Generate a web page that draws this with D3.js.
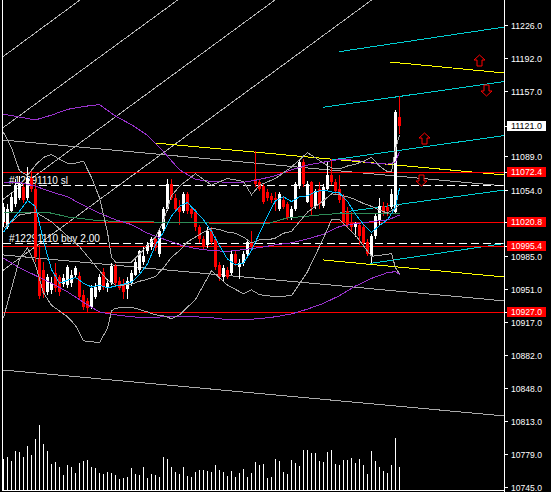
<!DOCTYPE html>
<html><head><meta charset="utf-8">
<script src="https://cdn.jsdelivr.net/npm/d3@7"></script>
<style>html,body{margin:0;padding:0;background:#000;overflow:hidden}</style>
</head><body>
<svg id="chart" width="551" height="492"></svg>
<script>
// ---------- DATA ----------
const candleOpen  = [11021,11016,11032,11039,11046,11057,11046,11067,11055,10982,10971,10948,10950,10968,10963,10956,10955,10957,10966,10964,10945,10938,10932,10943,10950,10969,10952,10957,10975,10959,10955,10951,10957,10966,10971,10979,10990,10995,11003,10987,11013,11034,11060,11046,11036,11032,11050,11034,11031,11015,11003,10997,11011,11003,10976,10963,10971,10968,10987,10974,10978,10987,11000,11065,11062,11058,11052,11048,11046,11034,11044,11039,11025,11034,11058,11083,11042,11062,11037,11055,11037,11055,11070,11062,11055,11047,11032,11021,11015,11018,11015,11000,10985,11006,11023,11037,11036,11036,11031,11130];
const candleHigh  = [11041,11039,11051,11065,11069,11060,11078,11076,11060,10997,10979,10967,10963,10978,10966,10967,10976,10971,10975,10969,10950,10942,10955,10957,10967,10973,10961,10978,10977,10963,10961,10963,10971,10984,10992,10995,11000,11005,11006,11013,11036,11065,11065,11050,11044,11052,11052,11037,11034,11018,11006,11015,11015,11006,10979,10976,10974,10990,10990,10982,10990,11003,11011,11095,11065,11060,11055,11051,11052,11052,11048,11042,11037,11062,11086,11086,11063,11063,11055,11062,11060,11084,11086,11065,11070,11050,11036,11031,11021,11021,11018,11003,11008,11029,11046,11042,11041,11055,11137,11152];
const candleLow   = [11015,11013,11030,11036,11044,11041,11044,11052,10979,10940,10942,10945,10946,10948,10944,10953,10952,10953,10963,10940,10929,10927,10930,10941,10948,10950,10948,10955,10954,10950,10940,10940,10954,10964,10968,10976,10987,10992,10990,10984,11010,11032,11044,11031,11018,11030,11029,11025,11011,10999,10992,10994,10997,10971,10959,10959,10961,10965,10975,10961,10975,10984,10992,11057,11053,11039,11043,11041,11032,11032,11034,11023,11023,11032,11055,11057,11040,11027,11034,11034,11035,11053,11059,11050,11041,11018,11015,11010,11005,10997,10996,10985,10978,11003,11017,11027,11027,11034,11029,11112];
const candleClose = [11036,11034,11047,11059,11060,11044,11067,11055,10984,10944,10947,10963,10957,10952,10948,10962,10974,10966,10973,10943,10932,10931,10952,10953,10963,10953,10957,10975,10957,10952,10948,10959,10968,10979,10990,10985,10997,11003,10994,11011,11034,11060,11046,11034,11031,11050,11032,11029,11015,11003,10995,11011,11000,10974,10963,10973,10963,10987,10978,10978,10987,11000,10995,11060,11055,11042,11046,11044,11044,11050,11036,11025,11034,11060,11083,11060,11060,11036,11053,11039,11057,11070,11062,11053,11044,11021,11018,11016,11020,11006,10999,10987,11006,11027,11037,11032,11032,11050,11135,11121];
const volumes = [310,330,290,390,380,330,440,350,510,650,460,390,260,280,230,150,250,230,170,270,290,300,230,220,170,160,180,170,150,110,120,130,220,160,150,230,120,160,150,130,330,310,230,180,160,230,140,130,180,200,200,190,180,250,200,180,140,190,130,170,210,130,170,280,250,260,120,130,310,290,180,160,300,270,240,400,400,370,370,290,280,380,400,260,250,300,300,320,270,310,250,160,390,290,230,190,170,250,520,230];

// fast moving average (light blue)
const maIdx = [0,2,4,6,8,10,12,14,16,18,20,22,24,26,28,30,32,34,36,38,40,42,44,46,48,50,52,54,56,58,60,62,64,66,68,70,72,74,76,78,80,82,84,86,88,90,92,94,96,98,99];
const maVal = [11010,11022,11032,11043,11037,11001,10971,10957,10960,10963,10957,10953,10955,10952,10954,10956,10958,10966,10977,10997,11010,11027,11037,11041,11032,11023,11011,10996,10982,10976,10978,10991,11009,11027,11043,11047,11042,11047,11048,11052,11054,11052,11051,11042,11029,11018,11010,11017,11023,11036,11056];

// Bollinger bands (gray)
const bbUpIdx = [0,2,4,6,8,10,12,14,16,18,20,22,24,26,27,28,32,36,38,40,42,44,48,52,56,60,62,64,68,72,76,80,82,84,86,88,90,92,94,96,97,98,99];
const bbUpVal = [11114,11098,11074,11069,11080,11088,11091,11086,11082,11082,11084,11067,11046,11010,10984,10979,10979,10996,11005,11022,11048,11058,11071,11059,11066,11063,11049,11059,11066,11078,11093,11082,11077,11076,11079,11081,11084,11088,11079,11073,11073,11097,11111];
const bbMidIdx = [0,4,8,12,16,19,20,22,24,26,28,30,32,34,36,38,40,42,44,46,48,50,52,54,56,58,60,62,64,66,68,70,72,74,76,78,80,82,84,86,88,90,92,94,96,98,99];
const bbMidVal = [11014,11028,11031,11021,11006,10995,10990,10980,10970,10960,10955,10955,10956,10959,10961,10964,10973,10984,10991,11000,11005,11010,11014,11013,11010,11009,11005,10999,11002,11002,11004,11009,11011,11021,11031,11037,11043,11050,11049,11047,11044,11040,11037,11033,11030,11035,11039];
const bbLowIdx = [0,4,6,8,10,12,14,16,18,20,24,26,27,28,32,36,38,40,42,44,48,52,56,60,62,64,68,72,76,80,82,84,86,88,90,92,94,96,97,98,99];
const bbLowVal = [10921,10982,10994,10976,10947,10934,10928,10922,10913,10897,10895,10910,10928,10931,10932,10927,10924,10923,10920,10924,10940,10970,10955,10946,10950,10945,10943,10944,10969,11004,11023,11023,11015,11007,10996,10985,10986,10987,10988,10973,10967];

// slow envelope (purple)
const slowIdx = [0,4,8,12,16,20,24,28,32,36,40,44,48,52,56,60,64,68,72,76,80,84,88,92,96,98,99];
const slowUp  = [11133,11130,11127,11132,11138,11141,11143,11131,11122,11111,11094,11075,11065,11063,11062,11062,11065,11069,11075,11080,11083,11086,11085,11082,11081,11083,11094];
const slowMid = [11062,11062,11058,11052,11047,11038,11030,11023,11018,11009,11003,10997,10993,10991,10990,10992,10994,10997,10999,11003,11008,11016,11019,11021,11023,11026,11028];
const slowLow = [10983,10973,10965,10957,10948,10937,10927,10924,10922,10921,10922,10922,10922,10921,10919,10919,10920,10922,10925,10930,10936,10944,10954,10962,10968,10969,10966];

// long moving average (green)
const longIdx = [0,8,12,16,20,24,32,50,54,66,71,74,79,85,94,99];
const longVal = [11031,11031,11030,11026,11024,11022,11021,11020,11019,11019,11025,11026,11028,11030,11030,11030];

// drawn objects
const gridStartIdx = [-0.125,-0.125,-0.125,-0.125];
const gridStartPrice = [11192.9,11118.9,11044.3,10970.4];
const gridEndIdx = [19.125,43.55,67.875,92.05];
const gridEndPrice = [11251.9,11251.9,11251.9,11251.9];

const trendStartIdx = [-0.125,-0.125,-0.125];
const trendStartPrice = [11106.1,10986.4,10866.6];
const trendEndIdx = [125.25,125.25,125.25];
const trendEndPrice = [11058.2,10938.5,10818.7];

const yellowStartIdx = [96.625,37.875,79.875];
const yellowStartPrice = [11187.3,11103.0,10981.2];
const yellowEndIdx = [125.25,125.25,125.25];
const yellowEndPrice = [11175.9,11069.7,10963.4];

const channelStartIdx = [83.95,79.95,82.05,84.125,91.625];
const channelStartPrice = [11198.1,11140.2,11085.3,11030.6,10977.5];
const channelEndIdx = [125.25,125.25,125.25,125.25,125.25];
const channelEndPrice = [11223.8,11167.0,11110.8,11054.0,10998.3];

const redLevels = [11072.4,11020.8,10995.4,10927.0];
const tradeLabels = ["#12291110 sl","#12291110 buy 2.00"];
const tradePrices = [11059.5,10998.5];

const arrowIdx = [119,120.5,105,104.45];
const arrowPrice = [11189.9,11158.2,11108.7,11064.5];
const arrowDir = ["up","down","up","down"];

const tickValues = [11226,11192,11157,11089,11054,10985,10951,10917,10882,10848,10813,10779,10745];
const currentPrice = 11121.0;

// ---------- CHART ----------
const W = 551, H = 492;
const FONT = 'Liberation Sans, Arial, sans-serif';
const svg = d3.select('#chart');
svg.append('rect').attr('width', W).attr('height', H).attr('fill', '#000');

const x = d3.scaleLinear().domain([0, 99]).range([3.5, 399.5]);
const y = d3.scaleLinear().domain([10741.6, 11251.9]).range([490, 0]);
const yv = d3.scaleLinear().domain([0, 800]).range([490, 410]);

svg.append('defs').append('clipPath').attr('id', 'clip')
  .append('rect').attr('x', 3).attr('y', 0).attr('width', 501).attr('height', 490);
const plot = svg.append('g').attr('clip-path', 'url(#clip)');

function segments(sIdx, sPr, eIdx, ePr, color) {
  plot.append('g').selectAll('line').data(sIdx).join('line')
    .attr('x1', (d, k) => x(sIdx[k])).attr('y1', (d, k) => y(sPr[k]))
    .attr('x2', (d, k) => x(eIdx[k])).attr('y2', (d, k) => y(ePr[k]))
    .attr('stroke', color).attr('stroke-width', 1).attr('shape-rendering', 'crispEdges');
}
segments(gridStartIdx, gridStartPrice, gridEndIdx, gridEndPrice, '#b4b4b4');
segments(trendStartIdx, trendStartPrice, trendEndIdx, trendEndPrice, '#a9a9a9');
segments(yellowStartIdx, yellowStartPrice, yellowEndIdx, yellowEndPrice, '#ffff00');
segments(channelStartIdx, channelStartPrice, channelEndIdx, channelEndPrice, '#00ced1');

// red levels
plot.append('g').selectAll('line').data(redLevels).join('line')
  .attr('x1', 3).attr('x2', 504).attr('y1', d => Math.round(y(d)) + 0.5).attr('y2', d => Math.round(y(d)) + 0.5)
  .attr('stroke', '#ff0000').attr('shape-rendering', 'crispEdges');

// trade lines (dashed) + labels
plot.append('g').selectAll('line').data(tradePrices).join('line')
  .attr('x1', 3).attr('x2', 504).attr('y1', d => Math.round(y(d)) + 0.5).attr('y2', d => Math.round(y(d)) + 0.5)
  .attr('stroke', '#ffffff').attr('stroke-dasharray', '8,4').attr('shape-rendering', 'crispEdges');
const tlens = [59, 91];
plot.append('g').selectAll('text').data(tradeLabels).join('text')
  .attr('x', 9).attr('y', (d, k) => Math.round(y(tradePrices[k])) - 1.5)
  .attr('fill', '#fff').attr('font-family', FONT).attr('font-size', 10.5)
  .attr('textLength', (d, k) => tlens[k]).attr('lengthAdjust', 'spacingAndGlyphs')
  .text(d => d);

// candles
const idx = d3.range(candleOpen.length);
const cg = plot.append('g').attr('shape-rendering', 'crispEdges');
const col = i => candleClose[i] >= candleOpen[i] ? '#ffffff' : '#ff0000';
cg.selectAll('line.w').data(idx).join('line').attr('class', 'w')
  .attr('x1', i => x(i)).attr('x2', i => x(i))
  .attr('y1', i => y(candleHigh[i])).attr('y2', i => y(candleLow[i]))
  .attr('stroke', col);
cg.selectAll('rect').data(idx).join('rect')
  .attr('x', i => x(i) - 1.5).attr('width', 3)
  .attr('y', i => y(Math.max(candleOpen[i], candleClose[i])))
  .attr('height', i => Math.max(1, Math.abs(y(candleOpen[i]) - y(candleClose[i]))))
  .attr('fill', col);

// volumes
plot.append('g').attr('shape-rendering', 'crispEdges').selectAll('line').data(volumes).join('line')
  .attr('x1', (d, i) => x(i)).attr('x2', (d, i) => x(i))
  .attr('y1', 490).attr('y2', d => yv(d))
  .attr('stroke', '#ffffff');

// indicator lines
const line = d3.line().x(d => x(d[0])).y(d => y(d[1]));
function ind(ix, vals, color) {
  plot.append('path').datum(d3.zip(ix, vals)).attr('d', line)
    .attr('fill', 'none').attr('stroke', color).attr('stroke-width', 1).attr('shape-rendering', 'crispEdges');
}
ind(longIdx, longVal, '#2e8b57');
ind(slowIdx, slowUp, '#9932cc');
ind(slowIdx, slowMid, '#9932cc');
ind(slowIdx, slowLow, '#9932cc');
ind(bbUpIdx, bbUpVal, '#a9a9a9');
ind(bbMidIdx, bbMidVal, '#a9a9a9');
ind(bbLowIdx, bbLowVal, '#a9a9a9');
ind(maIdx, maVal, '#00bfff');

// arrows
function arrowPath(cx, cy, dir) {
  const s = dir === 'up' ? 1 : -1;
  const p = [[0, -5.5], [5.5, -0.5], [2.5, -0.5], [2.5, 5.5], [-2.5, 5.5], [-2.5, -0.5], [-5.5, -0.5]];
  return 'M' + p.map(q => (cx + q[0]) + ',' + (cy + s * q[1])).join('L') + 'Z';
}
plot.append('g').selectAll('path').data(arrowIdx).join('path')
  .attr('d', (d, k) => arrowPath(Math.round(x(arrowIdx[k])) + 0.5, Math.round(y(arrowPrice[k])) + 0.5, arrowDir[k]))
  .attr('fill', '#000').attr('stroke', '#ff0000').attr('stroke-width', 1);

// frame
svg.append('line').attr('x1', 2.5).attr('x2', 2.5).attr('y1', 0).attr('y2', 491).attr('stroke', '#fff').attr('shape-rendering', 'crispEdges');
svg.append('line').attr('x1', 2).attr('x2', 505).attr('y1', 490.5).attr('y2', 490.5).attr('stroke', '#fff').attr('shape-rendering', 'crispEdges');
svg.append('line').attr('x1', 504.5).attr('x2', 504.5).attr('y1', 0).attr('y2', 492).attr('stroke', '#fff').attr('shape-rendering', 'crispEdges');

// price axis
const fmt = d3.format('.1f');
const ax = svg.append('g');
ax.selectAll('line').data(tickValues.concat(redLevels, [currentPrice])).join('line')
  .attr('x1', 504).attr('x2', 508).attr('y1', d => Math.round(y(d)) + 0.5).attr('y2', d => Math.round(y(d)) + 0.5)
  .attr('stroke', '#fff').attr('shape-rendering', 'crispEdges');
ax.selectAll('text.t').data(tickValues).join('text').attr('class', 't')
  .attr('x', 511).attr('y', d => Math.round(y(d)) + 3.6)
  .attr('fill', '#fff').attr('font-family', FONT).attr('font-size', 9.5)
  .attr('textLength', 31).attr('lengthAdjust', 'spacingAndGlyphs')
  .text(d => fmt(d));
const boxes = redLevels.map(v => ({v, bg: '#ff0000', fg: '#ffffff'})).concat([{v: currentPrice, bg: '#ffffff', fg: '#000000'}]);
const bx = ax.selectAll('g.b').data(boxes).join('g').attr('class', 'b');
bx.append('rect').attr('x', 507).attr('width', 39).attr('y', d => Math.round(y(d.v)) - 5).attr('height', 10)
  .attr('fill', d => d.bg).attr('shape-rendering', 'crispEdges');
bx.append('text').attr('x', 511).attr('y', d => Math.round(y(d.v)) + 3)
  .attr('fill', d => d.fg).attr('font-family', FONT).attr('font-size', 9.5)
  .attr('textLength', 31).attr('lengthAdjust', 'spacingAndGlyphs')
  .text(d => fmt(d.v));
</script>
</body></html>
